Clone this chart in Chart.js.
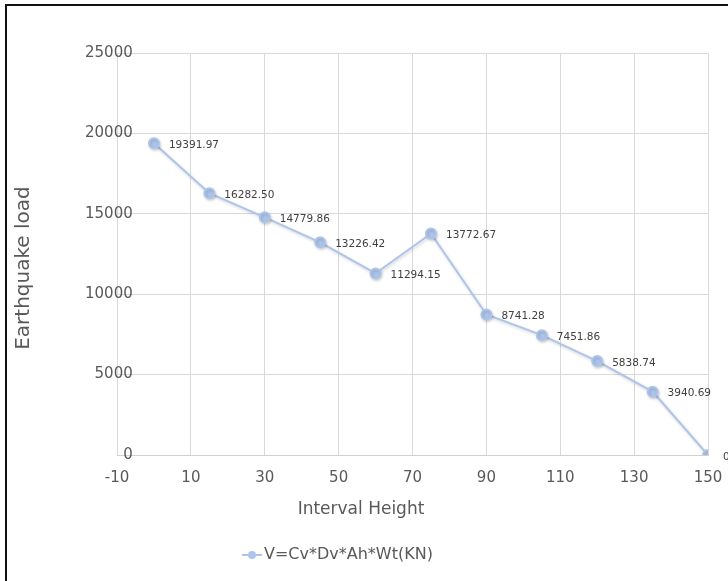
<!DOCTYPE html>
<html lang="en">
<head>
  <meta charset="UTF-8">
  <title>Earthquake load</title>
  <script src="https://cdn.jsdelivr.net/npm/chart.js"></script>
  <style>
    body { margin: 0; background: #fff; }
    .wrap { position: relative; width: 728px; height: 581px; }
    .frame {
      position: absolute; left: 5px; top: 4px; right: 0; bottom: 0;
      border-left: 2px solid #111; border-top: 2px solid #111;
      pointer-events: none;
    }
  </style>
</head>
<body>
  <div class="wrap">
    <canvas id="grafico" width="728" height="581"></canvas>
    <div class="frame"></div>
  </div>

  <script>
    const heights = [0, 15, 30, 45, 60, 75, 90, 105, 120, 135, 150];
    const loads = [19391.97, 16282.50, 14779.86, 13226.42, 11294.15, 13772.67, 8741.28, 7451.86, 5838.74, 3940.69, 0];
    const xTicks = [-10, 10, 30, 50, 70, 90, 110, 130, 150];
    const yTicks = [0, 5000, 10000, 15000, 20000, 25000];

    const seriesName = 'V=Cv*Dv*Ah*Wt(KN)';
    const xTitle = 'Interval Height';
    const yTitle = 'Earthquake load';

    const lineColor = '#adc5ea';
    const gray = '#595959';
    const font = '"DejaVu Sans", sans-serif';

    const textPlugin = {
      id: 'textParts',
      beforeDatasetsDraw(chart) {
        const ctx = chart.ctx;
        ctx.save();
        ctx.shadowColor = 'rgba(0,0,0,0.18)';
        ctx.shadowBlur = 3;
        ctx.shadowOffsetX = 1;
        ctx.shadowOffsetY = 1.5;
      },
      afterDatasetsDraw(chart) {
        const ctx = chart.ctx;
        ctx.restore();
        // value labels right of each point
        const pts = chart.getDatasetMeta(0).data;
        ctx.save();
        ctx.font = '10.5px ' + font;
        ctx.fillStyle = '#404040';
        ctx.textAlign = 'left';
        ctx.textBaseline = 'middle';
        pts.forEach((p, i) => {
          const v = loads[i];
          ctx.fillText(v === 0 ? '0' : v.toFixed(2), p.x + 15, p.y + 2);
        });
        ctx.restore();
      },
      afterDraw(chart) {
        const ctx = chart.ctx;
        ctx.save();
        ctx.fillStyle = gray;
        ctx.textAlign = 'center';
        ctx.textBaseline = 'middle';
        ctx.font = '17px ' + font;
        ctx.fillText(xTitle, 361, 510);

        ctx.save();
        ctx.translate(24, 268);
        ctx.rotate(-Math.PI / 2);
        ctx.font = '20px ' + font;
        ctx.fillText(yTitle, 0, 0);
        ctx.restore();

        // legend
        ctx.strokeStyle = lineColor;
        ctx.lineWidth = 2;
        ctx.beginPath();
        ctx.moveTo(242, 555);
        ctx.lineTo(262, 555);
        ctx.stroke();
        ctx.fillStyle = lineColor;
        ctx.beginPath();
        ctx.arc(252, 555, 4, 0, Math.PI * 2);
        ctx.fill();
        ctx.fillStyle = gray;
        ctx.textAlign = 'left';
        ctx.font = '16px ' + font;
        ctx.fillText(seriesName, 264, 555);
        ctx.restore();
      }
    };

    const ctx = document.getElementById('grafico').getContext('2d');
    new Chart(ctx, {
      type: 'scatter',
      data: {
        datasets: [{
          label: seriesName,
          data: heights.map((h, i) => ({ x: h, y: loads[i] })),
          showLine: true,
          borderColor: lineColor,
          borderWidth: 2,
          backgroundColor: lineColor,
          pointBackgroundColor: lineColor,
          pointBorderColor: lineColor,
          pointRadius: 5,
          pointHoverRadius: 5
        }]
      },
      options: {
        responsive: false,
        animation: false,
        events: [],
        layout: { padding: { top: 53, right: 20, left: 0, bottom: 0 } },
        plugins: {
          legend: { display: false },
          tooltip: { enabled: false }
        },
        scales: {
          x: {
            type: 'linear',
            min: xTicks[0],
            max: xTicks[xTicks.length - 1],
            afterBuildTicks: s => { s.ticks = xTicks.map(v => ({ value: v })); },
            afterFit: s => { s.height = 126; },
            grid: { color: '#d9d9d9', drawTicks: true, tickLength: 14, tickColor: 'rgba(0,0,0,0)' },
            border: { color: '#d0d0d0' },
            ticks: { color: gray, padding: 0, font: { family: font, size: 15 } }
          },
          y: {
            min: yTicks[0],
            max: yTicks[yTicks.length - 1],
            afterBuildTicks: s => { s.ticks = yTicks.map(v => ({ value: v })); },
            afterFit: s => { s.width = 117; },
            grid: { color: '#d9d9d9', drawTicks: false },
            border: { display: false },
            ticks: {
              color: gray,
              mirror: true,
              crossAlign: 'far',
              padding: -32,
              callback: v => String(v),
              font: { family: font, size: 15 }
            }
          }
        }
      },
      plugins: [textPlugin]
    });
  </script>
</body>
</html>
